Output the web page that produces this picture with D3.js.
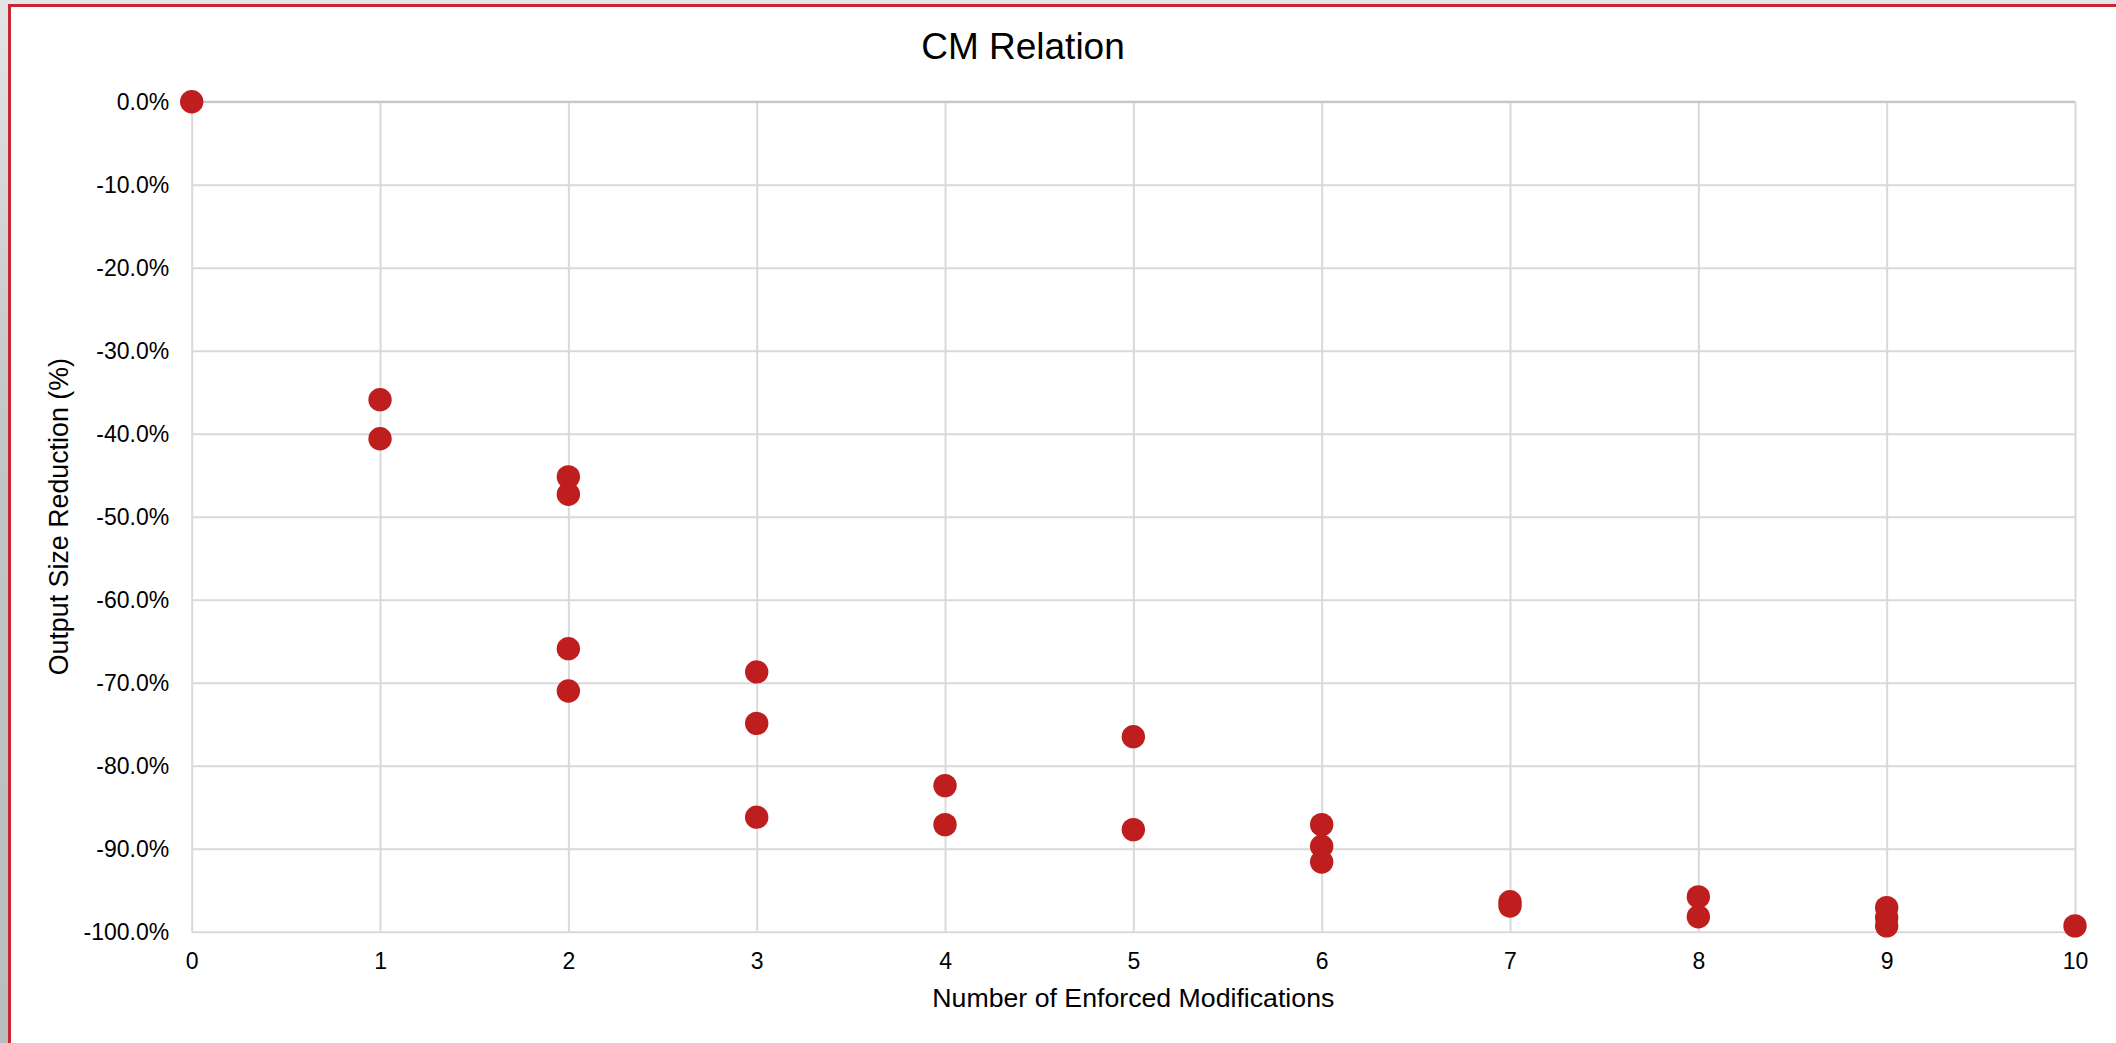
<!DOCTYPE html>
<html>
<head>
<meta charset="utf-8">
<script src="https://cdn.jsdelivr.net/npm/d3@7"></script>
<style>
  html, body { margin: 0; padding: 0; background: #e6e6e6; overflow: hidden; }
  svg { display: block; font-family: "Liberation Sans", Arial, sans-serif; }
  .axis text { fill: #000; font-size: 23px; }
  .axis .domain { display: none; }
  .axis line { stroke: #d9d9d9; stroke-width: 2; }
</style>
</head>
<body>
<div id="chart"></div>
<script>
// values
const modifications = [0, 1, 1, 2, 2, 2, 2, 3, 3, 3, 4, 4, 5, 5, 6, 6, 6, 7, 7, 8, 8, 9, 9, 9, 10];
const reduction = [0, -35.9, -40.6, -45.2, -47.3, -65.9, -71.0, -68.7, -74.9, -86.2, -82.4, -87.1,
  -76.5, -87.7, -87.1, -89.7, -91.6, -96.4, -96.9, -95.8, -98.2, -97.1, -98.3, -99.3, -99.3];
const xTicks = [0, 1, 2, 3, 4, 5, 6, 7, 8, 9, 10];
const yTicks = [0, -10, -20, -30, -40, -50, -60, -70, -80, -90, -100];

const W = 2116;
const H = 1043;
const margin = { top: 101.7, right: 41, bottom: 111.3, left: 191.7 };
const width = W - margin.left - margin.right;
const height = H - margin.top - margin.bottom;

const root = d3.select('#chart')
  .append('svg')
  .attr('width', W)
  .attr('height', H);

// window chrome around the chart frame
const grad = root.append('defs').append('linearGradient')
  .attr('id', 'strip').attr('x1', 0).attr('y1', 0).attr('x2', 0).attr('y2', 1);
grad.append('stop').attr('offset', '0%').attr('stop-color', '#e4e4e4');
grad.append('stop').attr('offset', '40%').attr('stop-color', '#c4c7c7');
grad.append('stop').attr('offset', '100%').attr('stop-color', '#b9bdbd');
root.append('rect').attr('x', 0).attr('y', 0).attr('width', 9).attr('height', H).attr('fill', 'url(#strip)');

// chart area with red outline (runs past right/bottom edge)
root.append('rect')
  .attr('x', 9.5).attr('y', 5.5)
  .attr('width', W + 20).attr('height', H + 20)
  .attr('fill', '#fff')
  .attr('stroke', '#c8282d')
  .attr('stroke-width', 3);

const svg = root.append('g')
  .attr('transform', `translate(${margin.left}, ${margin.top})`);

const xScale = d3.scaleLinear().domain([0, 10]).range([0, width]);
const yScale = d3.scaleLinear().domain([-100, 0]).range([height, 0]);

const xAxis = d3.axisBottom(xScale)
  .tickValues(xTicks)
  .tickFormat(d3.format('d'))
  .tickSizeInner(-height)
  .tickSizeOuter(0)
  .tickPadding(21);

const yAxis = d3.axisLeft(yScale)
  .tickValues(yTicks)
  .tickFormat((d) => d.toFixed(1) + '%')
  .tickSizeInner(-width)
  .tickSizeOuter(0)
  .tickPadding(22.5);

svg.append('g')
  .attr('class', 'x axis')
  .attr('transform', `translate(0, ${height})`)
  .call(xAxis);

svg.append('g')
  .attr('class', 'y axis')
  .call(yAxis);

// top border of plot is a touch darker
svg.append('line')
  .attr('x1', 0).attr('x2', width)
  .attr('y1', 0).attr('y2', 0)
  .attr('stroke', '#c4c4c4')
  .attr('stroke-width', 2);

// points
const pts = modifications.map((m, i) => ({ m, r: reduction[i] }));
svg.append('g')
  .selectAll('circle')
  .data(pts)
  .join('circle')
  .attr('cx', (d) => xScale(d.m))
  .attr('cy', (d) => yScale(d.r))
  .attr('r', 11.7)
  .attr('fill', '#be1e1e');

// titles
root.append('text')
  .attr('x', 1023)
  .attr('y', 58.5)
  .attr('text-anchor', 'middle')
  .style('font-size', '37px')
  .text('CM Relation');

root.append('text')
  .attr('x', margin.left + width / 2)
  .attr('y', 1006.5)
  .attr('text-anchor', 'middle')
  .style('font-size', '26.7px')
  .text('Number of Enforced Modifications');

root.append('text')
  .attr('transform', `translate(67.5, ${margin.top + height / 2}) rotate(-90)`)
  .attr('text-anchor', 'middle')
  .style('font-size', '26.8px')
  .text('Output Size Reduction (%)');
</script>
</body>
</html>
